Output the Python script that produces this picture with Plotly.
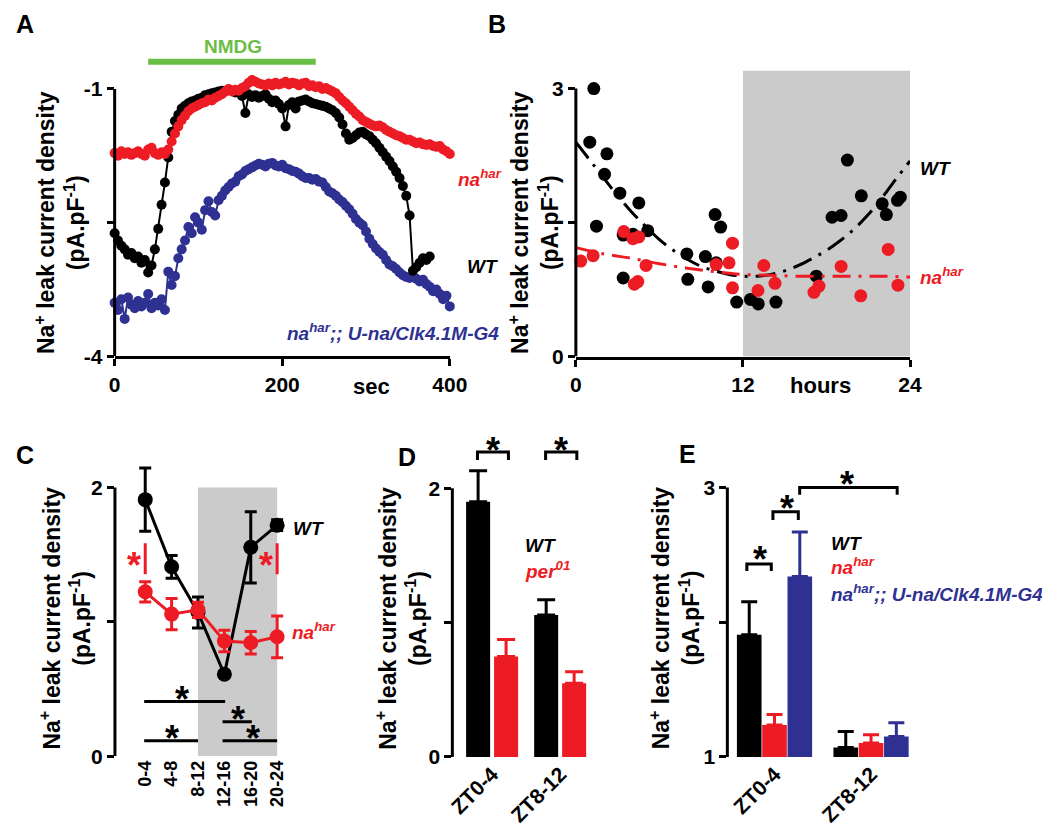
'''Na+ leak current density figure, panels A-E.'''

import plotly.graph_objects as go

FONT = 'Liberation Sans, Arial, sans-serif'
BLACK = '#000000'
RED = '#ED1C24'
BLUE = '#2E3192'
GREEN = '#6CBD45'
GREY = '#CBCBCB'
W, H = 1050, 830

# ---- panel A: single recordings, one sample every 4 s
trace_sec = list(range(0, 401, 4))
wt_trace_sec = list(range(0, 377, 4))
nahar_trace = [
    -1.72, -1.75, -1.70, -1.73, -1.71, -1.74, -1.72, -1.70, -1.73, -1.75,
    -1.68, -1.66, -1.72, -1.74, -1.71, -1.73, -1.68, -1.59, -1.50, -1.42,
    -1.35, -1.30, -1.25, -1.22, -1.20, -1.18, -1.16, -1.15, -1.12, -1.13,
    -1.10, -1.08, -1.06, -1.03, -1.00, -1.03, -1.01, -1.02, -0.99, -0.97,
    -0.93, -0.90, -0.92, -0.94, -0.95, -0.96, -0.94, -0.96, -0.93, -0.95,
    -0.94, -0.92, -0.95, -0.93, -0.94, -0.96, -0.94, -0.93, -0.97, -0.96,
    -0.98, -0.97, -1.00, -0.99, -1.01, -1.03, -1.05, -1.09, -1.13, -1.16,
    -1.20, -1.24, -1.28, -1.31, -1.35, -1.37, -1.39, -1.41, -1.42, -1.41,
    -1.43, -1.46, -1.48, -1.50, -1.52, -1.53, -1.55, -1.57, -1.57, -1.59,
    -1.61, -1.60, -1.62, -1.63, -1.62, -1.64, -1.65, -1.64, -1.68, -1.70,
    -1.73,
]
wt_trace = [
    -2.62, -2.70, -2.76, -2.80, -2.86, -2.84, -2.90, -2.88, -2.95, -2.92,
    -3.06, -2.98, -2.80, -2.57, -2.30, -2.05, -1.77, -1.48, -1.36, -1.29,
    -1.22, -1.19, -1.16, -1.14, -1.13, -1.11, -1.10, -1.07, -1.06, -1.05,
    -1.04, -1.03, -1.02, -1.03, -1.01, -1.02, -1.04, -1.03, -1.08, -1.27,
    -1.06, -1.09, -1.07, -1.10, -1.08, -1.06, -1.11, -1.15, -1.13, -1.17,
    -1.22, -1.42, -1.18, -1.15, -1.22, -1.14, -1.13, -1.12, -1.14, -1.16,
    -1.17, -1.18, -1.19, -1.20, -1.22, -1.24, -1.27, -1.32, -1.40, -1.50,
    -1.57, -1.55, -1.52, -1.49, -1.48, -1.51, -1.53, -1.57, -1.61, -1.66,
    -1.71, -1.76, -1.81, -1.87, -1.93, -2.00, -2.09, -2.20, -2.42, -3.04,
    -3.00, -2.95, -2.90, -2.92, -2.88,
]
rescue_trace = [
    -3.40, -3.48, -3.36, -3.58, -3.34, -3.42, -3.46, -3.38, -3.44, -3.40,
    -3.30, -3.46, -3.40, -3.43, -3.36, -3.48, -3.05, -3.20, -3.10, -2.90,
    -2.80, -2.70, -2.55, -2.62, -2.44, -2.50, -2.58, -2.36, -2.26, -2.38,
    -2.42, -2.25, -2.20, -2.14, -2.10, -2.06, -2.04, -1.98, -1.96, -1.92,
    -1.90, -1.88, -1.86, -1.84, -1.85, -1.87, -1.84, -1.83, -1.86, -1.87,
    -1.85, -1.89, -1.90, -1.92, -1.93, -1.95, -1.98, -2.00, -2.00, -2.02,
    -2.01, -2.04, -2.05, -2.10, -2.15, -2.17, -2.20, -2.24, -2.27, -2.31,
    -2.35, -2.40, -2.46, -2.50, -2.53, -2.60, -2.68, -2.74, -2.79, -2.83,
    -2.86, -2.92, -2.97, -2.99, -3.02, -3.06, -3.09, -3.11, -3.12, -3.10,
    -3.13, -3.16, -3.14, -3.19, -3.22, -3.27, -3.25, -3.30, -3.36, -3.32,
    -3.44,
]
nmdg_window = [40, 240]

# ---- panel B: one point per cell
wt_cell_hour = [1.29, 1.0, 2.23, 2.06, 1.48, 3.16, 4.52, 3.40, 4.1, 5.16,
                3.40, 7.97, 9.3, 8.04, 9.5, 10.0, 10.4, 10.08, 11.55, 12.54,
                13.1, 14.37, 17.27, 18.4, 19.05, 19.5, 20.5, 22.0, 22.3, 23.1,
                23.3]
wt_cell_val = [3.00, 2.40, 2.27, 2.04, 1.46, 1.83, 1.72, 1.36, 1.37, 1.41,
               0.88, 1.15, 1.12, 0.865, 0.78, 1.59, 1.45, 1.05, 0.61, 0.64,
               0.59, 0.61, 0.90, 1.56, 1.58, 2.20, 1.80, 1.71, 1.59, 1.75,
               1.785]
nahar_cell_hour = [0.35, 1.24, 3.44, 4.1, 4.52, 5.04, 4.2, 4.45, 10.08, 11.0,
                   11.25, 11.25, 13.08, 13.5, 14.3, 17.1, 17.46, 19.05, 20.46,
                   22.43, 23.13]
nahar_cell_val = [1.07, 1.13, 1.40, 1.32, 1.34, 1.02, 0.81, 0.84, 1.03, 1.05,
                  1.27, 0.77, 0.74, 1.02, 0.82, 0.72, 0.79, 1.01, 0.68, 1.20,
                  0.80]
wt_fit_hour = [0, 1, 2, 3, 4, 5, 6, 7, 8, 9, 10, 11, 12, 13, 14, 15, 16, 17,
               18, 19, 20, 21, 22, 23, 24]
wt_fit = [2.40, 2.20, 2.00, 1.80, 1.62, 1.46, 1.31, 1.19, 1.09, 1.01, 0.96,
          0.92, 0.90, 0.90, 0.92, 0.96, 1.02, 1.10, 1.19, 1.30, 1.43, 1.59,
          1.78, 1.99, 2.19]
nahar_fit_hour = [0, 2, 4, 6, 8, 10, 12, 14, 16, 18, 20, 22, 24]
nahar_fit = [1.22, 1.15, 1.10, 1.04, 0.99, 0.95, 0.92, 0.91, 0.90, 0.90, 0.90,
             0.90, 0.89]
dark_hours = [12, 24]

# ---- panel C: 4 h bins, mean and SEM
zt_bins = ['0-4', '4-8', '8-12', '12-16', '16-20', '20-24']
wt_bin_mean = [1.91, 1.41, 1.07, 0.61, 1.555, 1.72]
wt_bin_sem = [0.235, 0.085, 0.115, 0.02, 0.265, 0.04]
nahar_bin_mean = [1.224, 1.058, 1.09, 0.857, 0.845, 0.889]
nahar_bin_sem = [0.075, 0.117, 0.057, 0.08, 0.084, 0.155]

# ---- panel D
zt_groups = ['ZT0-4', 'ZT8-12']
wt_d = [1.90, 1.057]
wt_d_sem = [0.23, 0.113]
per_d = [0.747, 0.548]
per_d_sem = [0.127, 0.086]

# ---- panel E
wt_e = [1.908, 1.071]
wt_e_sem = [0.245, 0.117]
nahar_e = [1.237, 1.103]
nahar_e_sem = [0.078, 0.061]
rescue_e = [2.34, 1.151]
rescue_e_sem = [0.33, 0.103]


def dom(v0, p0, v1, p1, lo, hi, size, vertical):
    '''Domain that puts value v0 at pixel p0 and v1 at p1.'''
    scale = (p1 - p0) / (v1 - v0)
    a = p0 + (lo - v0) * scale
    b = p0 + (hi - v0) * scale
    if vertical:
        return sorted([1 - a / size, 1 - b / size])
    return sorted([a / size, b / size])


def font(size, color=BLACK):
    return dict(family=FONT, size=size, color=color, weight='bold')


def text(x, y, txt, color=BLACK, size=19, anchor='left', angle=0, yanchor='middle'):
    return dict(xref='paper', yref='paper', x=x / W, y=1 - y / H, text=txt,
                showarrow=False, xanchor=anchor, yanchor=yanchor,
                textangle=angle, font=font(size, color))


def star(xa, ya, x, y, color=BLACK):
    return dict(xref=xa, yref=ya, x=x, y=y, text='*', showarrow=False,
                xanchor='center', yanchor='middle', yshift=-7,
                font=font(36, color))


def seg(xa, ya, x0, y0, x1, y1, color=BLACK):
    return dict(type='line', xref=xa, yref=ya, x0=x0, y0=y0, x1=x1, y1=y1,
                line=dict(color=color, width=3))


def bracket(xa, ya, x0, x1, top, foot):
    return dict(type='path', xref=xa, yref=ya,
                path=f'M{x0},{foot} L{x0},{top} L{x1},{top} L{x1},{foot}',
                line=dict(color=BLACK, width=3))


def main():
    '''Build the figure.'''
    fig = go.Figure()

    # A
    for t, v, c in [(trace_sec, rescue_trace, BLUE),
                    (wt_trace_sec, wt_trace, BLACK),
                    (trace_sec, nahar_trace, RED)]:
        fig.add_trace(go.Scatter(
            x=t, y=v, mode='lines+markers', cliponaxis=False,
            line=dict(color=c, width=2), marker=dict(color=c, size=10),
            xaxis='x', yaxis='y'))

    # B
    fig.add_trace(go.Scatter(
        x=wt_cell_hour, y=wt_cell_val, mode='markers', cliponaxis=False,
        marker=dict(color=BLACK, size=13), xaxis='x2', yaxis='y2'))
    fig.add_trace(go.Scatter(
        x=nahar_cell_hour, y=nahar_cell_val, mode='markers', cliponaxis=False,
        marker=dict(color=RED, size=13), xaxis='x2', yaxis='y2'))
    fig.add_trace(go.Scatter(
        x=wt_fit_hour, y=wt_fit, mode='lines',
        line=dict(color=BLACK, width=3, dash='20px,8px,3px,8px', shape='spline'),
        xaxis='x2', yaxis='y2'))
    fig.add_trace(go.Scatter(
        x=nahar_fit_hour, y=nahar_fit, mode='lines',
        line=dict(color=RED, width=3, dash='18px,8px,3px,8px', shape='spline'),
        xaxis='x2', yaxis='y2'))

    # C
    idx = list(range(len(zt_bins)))
    for m, s, c in [(wt_bin_mean, wt_bin_sem, BLACK),
                    (nahar_bin_mean, nahar_bin_sem, RED)]:
        fig.add_trace(go.Scatter(
            x=idx, y=m, mode='lines+markers', cliponaxis=False,
            line=dict(color=c, width=3), marker=dict(color=c, size=15),
            error_y=dict(type='data', array=s, color=c, thickness=3, width=6),
            xaxis='x3', yaxis='y3'))

    # D
    gidx = list(range(len(zt_groups)))
    for v, s, c, off in [(wt_d, wt_d_sem, BLACK, -0.383),
                         (per_d, per_d_sem, RED, 0.028)]:
        fig.add_trace(go.Bar(
            x=gidx, y=v, width=0.353, offset=off, marker=dict(color=c, line=dict(width=0)),
            error_y=dict(type='data', array=s, symmetric=False,
                         arrayminus=[0] * len(v), color=c, thickness=3, width=9),
            xaxis='x4', yaxis='y4'))

    # E
    for v, s, c, off in [(wt_e, wt_e_sem, BLACK, -0.39),
                         (nahar_e, nahar_e_sem, RED, -0.128),
                         (rescue_e, rescue_e_sem, BLUE, 0.134)]:
        fig.add_trace(go.Bar(
            x=gidx, y=v, width=0.255, offset=off, marker=dict(color=c, line=dict(width=0)),
            error_y=dict(type='data', array=s, symmetric=False,
                         arrayminus=[0] * len(v), color=c, thickness=3, width=8),
            xaxis='x5', yaxis='y5'))

    tick = dict(ticks='outside', ticklen=7, tickwidth=3, tickcolor=BLACK,
                showgrid=False, zeroline=False, tickfont=font(21))
    bare = dict(showgrid=False, zeroline=False, ticks='', showline=False,
                tickfont=font(18))

    ax = {
        'A': dom(0, 103, 400, 446, 0, 400, W, False),
        'Ay': dom(-4, 353, -1, 82, -4, -0.85, H, True),
        'B': dom(0, 575, 24, 917, 0, 24, W, False),
        'By': dom(0, 353.3, 3, 81.7, 0, 3.25, H, True),
        'C': dom(0, 134.3, 5, 269.3, -1.148, 5.5, W, False),
        'Cy': dom(0, 758.3, 2, 486, 0, 2.2, H, True),
        'D': dom(0, 489.35, 1, 559, -0.585, 1.6, W, False),
        'Dy': dom(0, 759, 2, 486.7, 0, 2.4, H, True),
        'E': dom(0, 778.35, 1, 877.15, -0.489, 1.55, W, False),
        'Ey': dom(1, 759, 3, 486, 1, 3.4, H, True),
    }

    fig.update_layout(
        width=W, height=H, margin=dict(l=0, r=0, t=0, b=0),
        paper_bgcolor='white', plot_bgcolor='white', showlegend=False,
        barmode='overlay', font=dict(family=FONT, color=BLACK),
        xaxis=dict(domain=ax['A'], range=[0, 400], anchor='y', showline=True,
                   linewidth=3, linecolor=BLACK, tickvals=[0, 200, 400], **tick),
        yaxis=dict(domain=ax['Ay'], range=[-4, -0.85], anchor='x', showline=False,
                   tickvals=[-4, -2.5, -1], ticktext=['-4', '', '-1'], **tick),
        xaxis2=dict(domain=ax['B'], range=[0, 24], anchor='y2', showline=True,
                    linewidth=3, linecolor=BLACK, tickvals=[0, 12, 24], **tick),
        yaxis2=dict(domain=ax['By'], range=[0, 3.25], anchor='x2', showline=False,
                    tickvals=[0, 1.5, 3], ticktext=['0', '', '3'], **tick),
        xaxis3=dict(domain=ax['C'], range=[-1.148, 5.5], anchor='y3',
                    tickvals=idx, ticktext=zt_bins, tickangle=-90, **bare),
        yaxis3=dict(domain=ax['Cy'], range=[0, 2.2], anchor='x3', showline=False,
                    tickvals=[0, 1, 2], ticktext=['0', '', '2'], **tick),
        xaxis4=dict(domain=ax['D'], range=[-0.585, 1.6], anchor='y4',
                    tickvals=gidx, ticktext=zt_groups, tickangle=-45,
                    **{**bare, 'tickfont': font(21)}),
        yaxis4=dict(domain=ax['Dy'], range=[0, 2.4], anchor='x4', showline=False,
                    tickvals=[0, 1, 2], ticktext=['0', '', '2'], **tick),
        xaxis5=dict(domain=ax['E'], range=[-0.489, 1.55], anchor='y5',
                    tickvals=gidx, ticktext=zt_groups, tickangle=-45,
                    **{**bare, 'tickfont': font(21)}),
        yaxis5=dict(domain=ax['Ey'], range=[1, 3.4], anchor='x5', showline=False,
                    tickvals=[1, 2, 3], ticktext=['1', '', '3'], **tick),
    )

    shapes = [
        # y axis lines
        seg('paper', 'y', ax['A'][0], -4, ax['A'][0], -1),
        seg('paper', 'y2', ax['B'][0], 0, ax['B'][0], 3),
        seg('paper', 'y3', ax['C'][0], 0, ax['C'][0], 2),
        seg('paper', 'y4', ax['D'][0], 0, ax['D'][0], 2),
        seg('paper', 'y5', ax['E'][0], 1, ax['E'][0], 3),
        # NMDG bar
        dict(type='line', xref='x', yref='paper', x0=nmdg_window[0],
             x1=nmdg_window[1], y0=1 - 54.5 / H, y1=1 - 54.5 / H,
             line=dict(color=GREEN, width=6)),
        # dark phase
        dict(type='rect', xref='x2', yref='y2', x0=dark_hours[0], x1=dark_hours[1],
             y0=0, y1=3.2, fillcolor=GREY, line=dict(width=0), layer='below'),
        dict(type='rect', xref='x3', yref='y3', x0=2, x1=5, y0=0, y1=2,
             fillcolor=GREY, line=dict(width=0), layer='below'),
        # C significance
        seg('x3', 'y3', 0, 1.354, 0, 1.586, RED),
        seg('x3', 'y3', 5, 1.354, 5, 1.586, RED),
        seg('x3', 'y3', -0.04, 0.408, 3.03, 0.408),
        seg('x3', 'y3', 2.93, 0.257, 4.04, 0.257),
        seg('x3', 'y3', -0.04, 0.115, 2.0, 0.115),
        seg('x3', 'y3', 2.93, 0.115, 5.0, 0.115),
        # D brackets
        bracket('x4', 'y4', -0.216, 0.239, 2.27, 2.21),
        bracket('x4', 'y4', 0.785, 1.244, 2.27, 2.21),
        # E brackets
        bracket('x5', 'y5', -0.287, -0.034, 2.433, 2.38),
        bracket('x5', 'y5', -0.017, 0.246, 2.82, 2.76),
        bracket('x5', 'y5', 0.26, 1.27, 3.0, 2.946),
    ]

    ytitle = 'Na<sup>+</sup> leak current density<br>(pA.pF<sup>-1</sup>)'
    notes = [
        text(11, 0, 'A', size=25, anchor='center', yanchor='top'),
        text(494, 0, 'B', size=25, anchor='center', yanchor='top'),
        text(11, 453, 'C', size=25, anchor='center'),
        text(402, 455, 'D', size=25, anchor='center'),
        text(689, 452, 'E', size=25, anchor='center'),
        text(47, 217, ytitle, size=23, anchor='center', angle=-90),
        text(532, 217, ytitle, size=23, anchor='center', angle=-90),
        text(52, 618, ytitle, size=23, anchor='center', angle=-90),
        text(396, 618, ytitle, size=23, anchor='center', angle=-90),
        text(676, 618, ytitle, size=23, anchor='center', angle=-90),
        # A
        text(224, 39, 'NMDG', GREEN, 19, 'center'),
        text(452, 172, '<i>na<sup>har</sup></i>', RED),
        text(462, 262, '<i>WT</i>', BLACK),
        text(277, 328, '<i>na<sup>har</sup>;; U-na/Clk4.1M-G4</i>', BLUE),
        text(366, 384, 'sec', size=22, anchor='center'),
        # B
        text(925, 163, '<i>WT</i>', BLACK),
        text(925, 272, '<i>na<sup>har</sup></i>', RED),
        text(825, 383, 'hours', size=22, anchor='center'),
        # C
        text(283, 527, '<i>WT</i>', BLACK),
        text(282, 631, '<i>na<sup>har</sup></i>', RED),
        star('x3', 'y3', -0.41, 1.469, RED),
        star('x3', 'y3', 4.59, 1.469, RED),
        star('x3', 'y3', 1.385, 0.472),
        star('x3', 'y3', 3.52, 0.325),
        star('x3', 'y3', 1.01, 0.184),
        star('x3', 'y3', 4.1, 0.184),
        # D
        text(521, 545, '<i>WT</i>', BLACK),
        text(521, 570, '<i>per<sup>01</sup></i>', RED),
        star('x4', 'y4', 0.009, 2.33),
        star('x4', 'y4', 1.005, 2.33),
        # E
        text(834, 543, '<i>WT</i>', BLACK),
        text(834, 566, '<i>na<sup>har</sup></i>', RED),
        text(834, 593, '<i>na<sup>har</sup>;; U-na/Clk4.1M-G4</i>', BLUE),
        star('x5', 'y5', -0.152, 2.519),
        star('x5', 'y5', 0.128, 2.897),
        star('x5', 'y5', 0.752, 3.073),
    ]
    fig.update_layout(shapes=shapes, annotations=notes)
    fig.write_html('out.html')


if __name__ == '__main__':
    main()
